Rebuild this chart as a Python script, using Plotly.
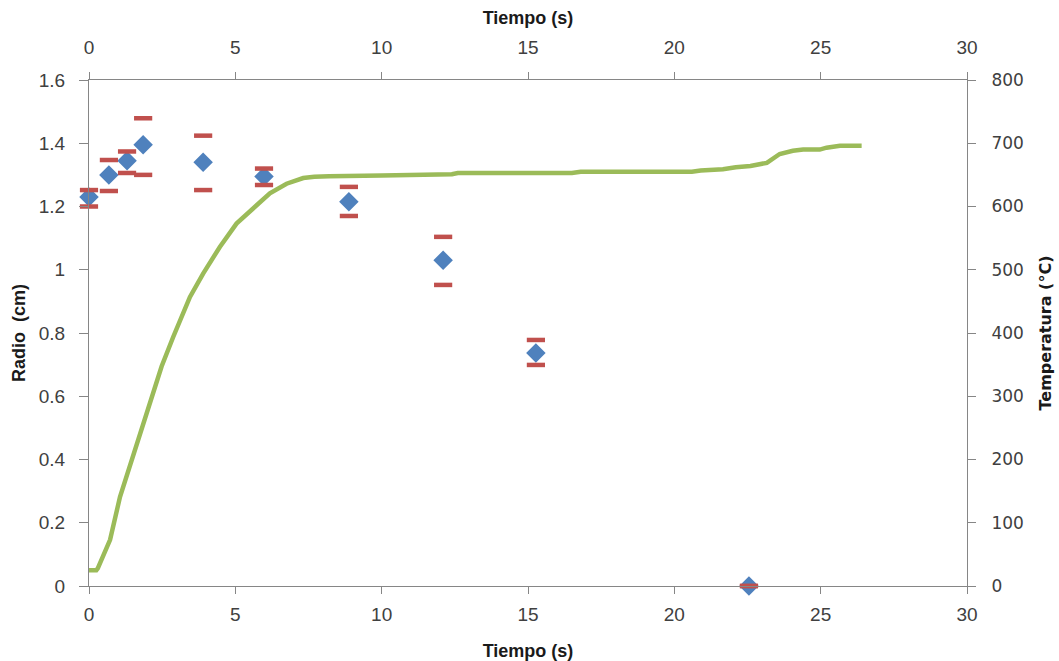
import plotly.graph_objects as go

# Radius measurements
t_pts = [0.0, 0.68, 1.3, 1.85, 3.9, 5.98, 8.88, 12.1, 15.27, 22.55]
radio = [1.23, 1.30, 1.345, 1.395, 1.34, 1.295, 1.215, 1.03, 0.737, 0.0]
radio_max = [1.252, 1.347, 1.374, 1.479, 1.424, 1.32, 1.262, 1.104, 0.778, 0.0]
radio_min = [1.20, 1.249, 1.306, 1.30, 1.252, 1.268, 1.17, 0.952, 0.699, 0.0]

# Temperature curve
t_temp = [0.0, 0.25, 0.3, 0.5, 0.72, 1.06, 1.46, 1.8, 2.14, 2.48, 2.88, 3.45, 3.9,
          4.47, 5.04, 5.61, 6.18, 6.75, 7.32, 7.7, 8.2, 10.0, 12.4, 12.6, 16.5, 16.8,
          20.6, 20.9, 21.66, 22.1, 22.6, 23.16, 23.6, 24.05, 24.4, 24.97, 25.2,
          25.66, 26.4]
temp = [25, 25, 28, 48, 73, 141, 199, 251, 302, 347, 394, 457, 494,
        536, 573, 597, 621, 636, 645, 647, 648, 649, 651, 653, 653, 655,
        655, 657, 659, 662, 664, 669, 683, 688, 690, 690, 693,
        696, 696]

x_ticks = [0, 5, 10, 15, 20, 25, 30]

BLUE = "#4F81BD"
RED = "#C0504D"
GREEN = "#9BBB59"
AX = "#868686"
FONT = "Liberation Sans"
TICKFONT = dict(family=FONT, size=19, color="#404040")
TITLEFONT = dict(family=FONT, size=18, color="#1a1a1a")

fig = go.Figure()

fig.add_trace(go.Scatter(
    x=t_temp, y=temp, mode="lines", xaxis="x2", yaxis="y2",
    line=dict(color=GREEN, width=4.5), showlegend=False, hoverinfo="skip"))

fig.add_trace(go.Scatter(
    x=t_pts, y=radio, mode="markers", cliponaxis=False,
    marker=dict(symbol="diamond", size=15, color=BLUE), showlegend=False))

fig.add_trace(go.Scatter(
    x=t_pts, y=radio_max, mode="markers", cliponaxis=False,
    marker=dict(symbol="line-ew", size=13, line=dict(color=RED, width=4.5)),
    showlegend=False))
fig.add_trace(go.Scatter(
    x=t_pts, y=radio_min, mode="markers", cliponaxis=False,
    marker=dict(symbol="line-ew", size=13, line=dict(color=RED, width=4.5)),
    showlegend=False))

common = dict(showgrid=False, zeroline=False, showline=True, linecolor=AX,
              linewidth=1, ticks="outside", tickcolor=AX, automargin=False)

fig.update_layout(
    width=1059, height=661,
    margin=dict(l=89, r=92, t=80, b=75),
    paper_bgcolor="white", plot_bgcolor="white",
    xaxis=dict(range=[0, 30], tickvals=x_ticks, ticklen=7, tickfont=TICKFONT,
               ticklabelstandoff=4, **common,
               title=dict(text="<b>Tiempo (s)</b>", font=TITLEFONT, standoff=21)),
    xaxis2=dict(range=[0, 30], tickvals=x_ticks, overlaying="x", side="top",
                ticklen=7, tickfont=TICKFONT, ticklabelstandoff=10, **common,
                title=dict(text="<b>Tiempo (s)</b>", font=TITLEFONT, standoff=8)),
    yaxis=dict(range=[0, 1.6], tickvals=[0, 0.2, 0.4, 0.6, 0.8, 1, 1.2, 1.4, 1.6],
               ticktext=["0", "0.2", "0.4", "0.6", "0.8", "1", "1.2", "1.4", "1.6"],
               ticklen=9, tickfont=TICKFONT, ticklabelstandoff=10, **common,
               title=dict(text="<b>Radio  (cm)</b>", font=TITLEFONT, standoff=8)),
    yaxis2=dict(range=[0, 800], tickvals=[0, 100, 200, 300, 400, 500, 600, 700, 800],
                overlaying="y", side="right", anchor="x2",
                ticklen=8, ticklabelstandoff=12,
                tickfont=dict(family="DejaVu Sans", size=17, color="#404040"), **common,
                title=dict(text="<b>Temperatura (°C)</b>",
                           font=dict(family="DejaVu Sans", size=16, color="#1a1a1a"),
                           standoff=16)),
)

fig.write_html("out.html")
